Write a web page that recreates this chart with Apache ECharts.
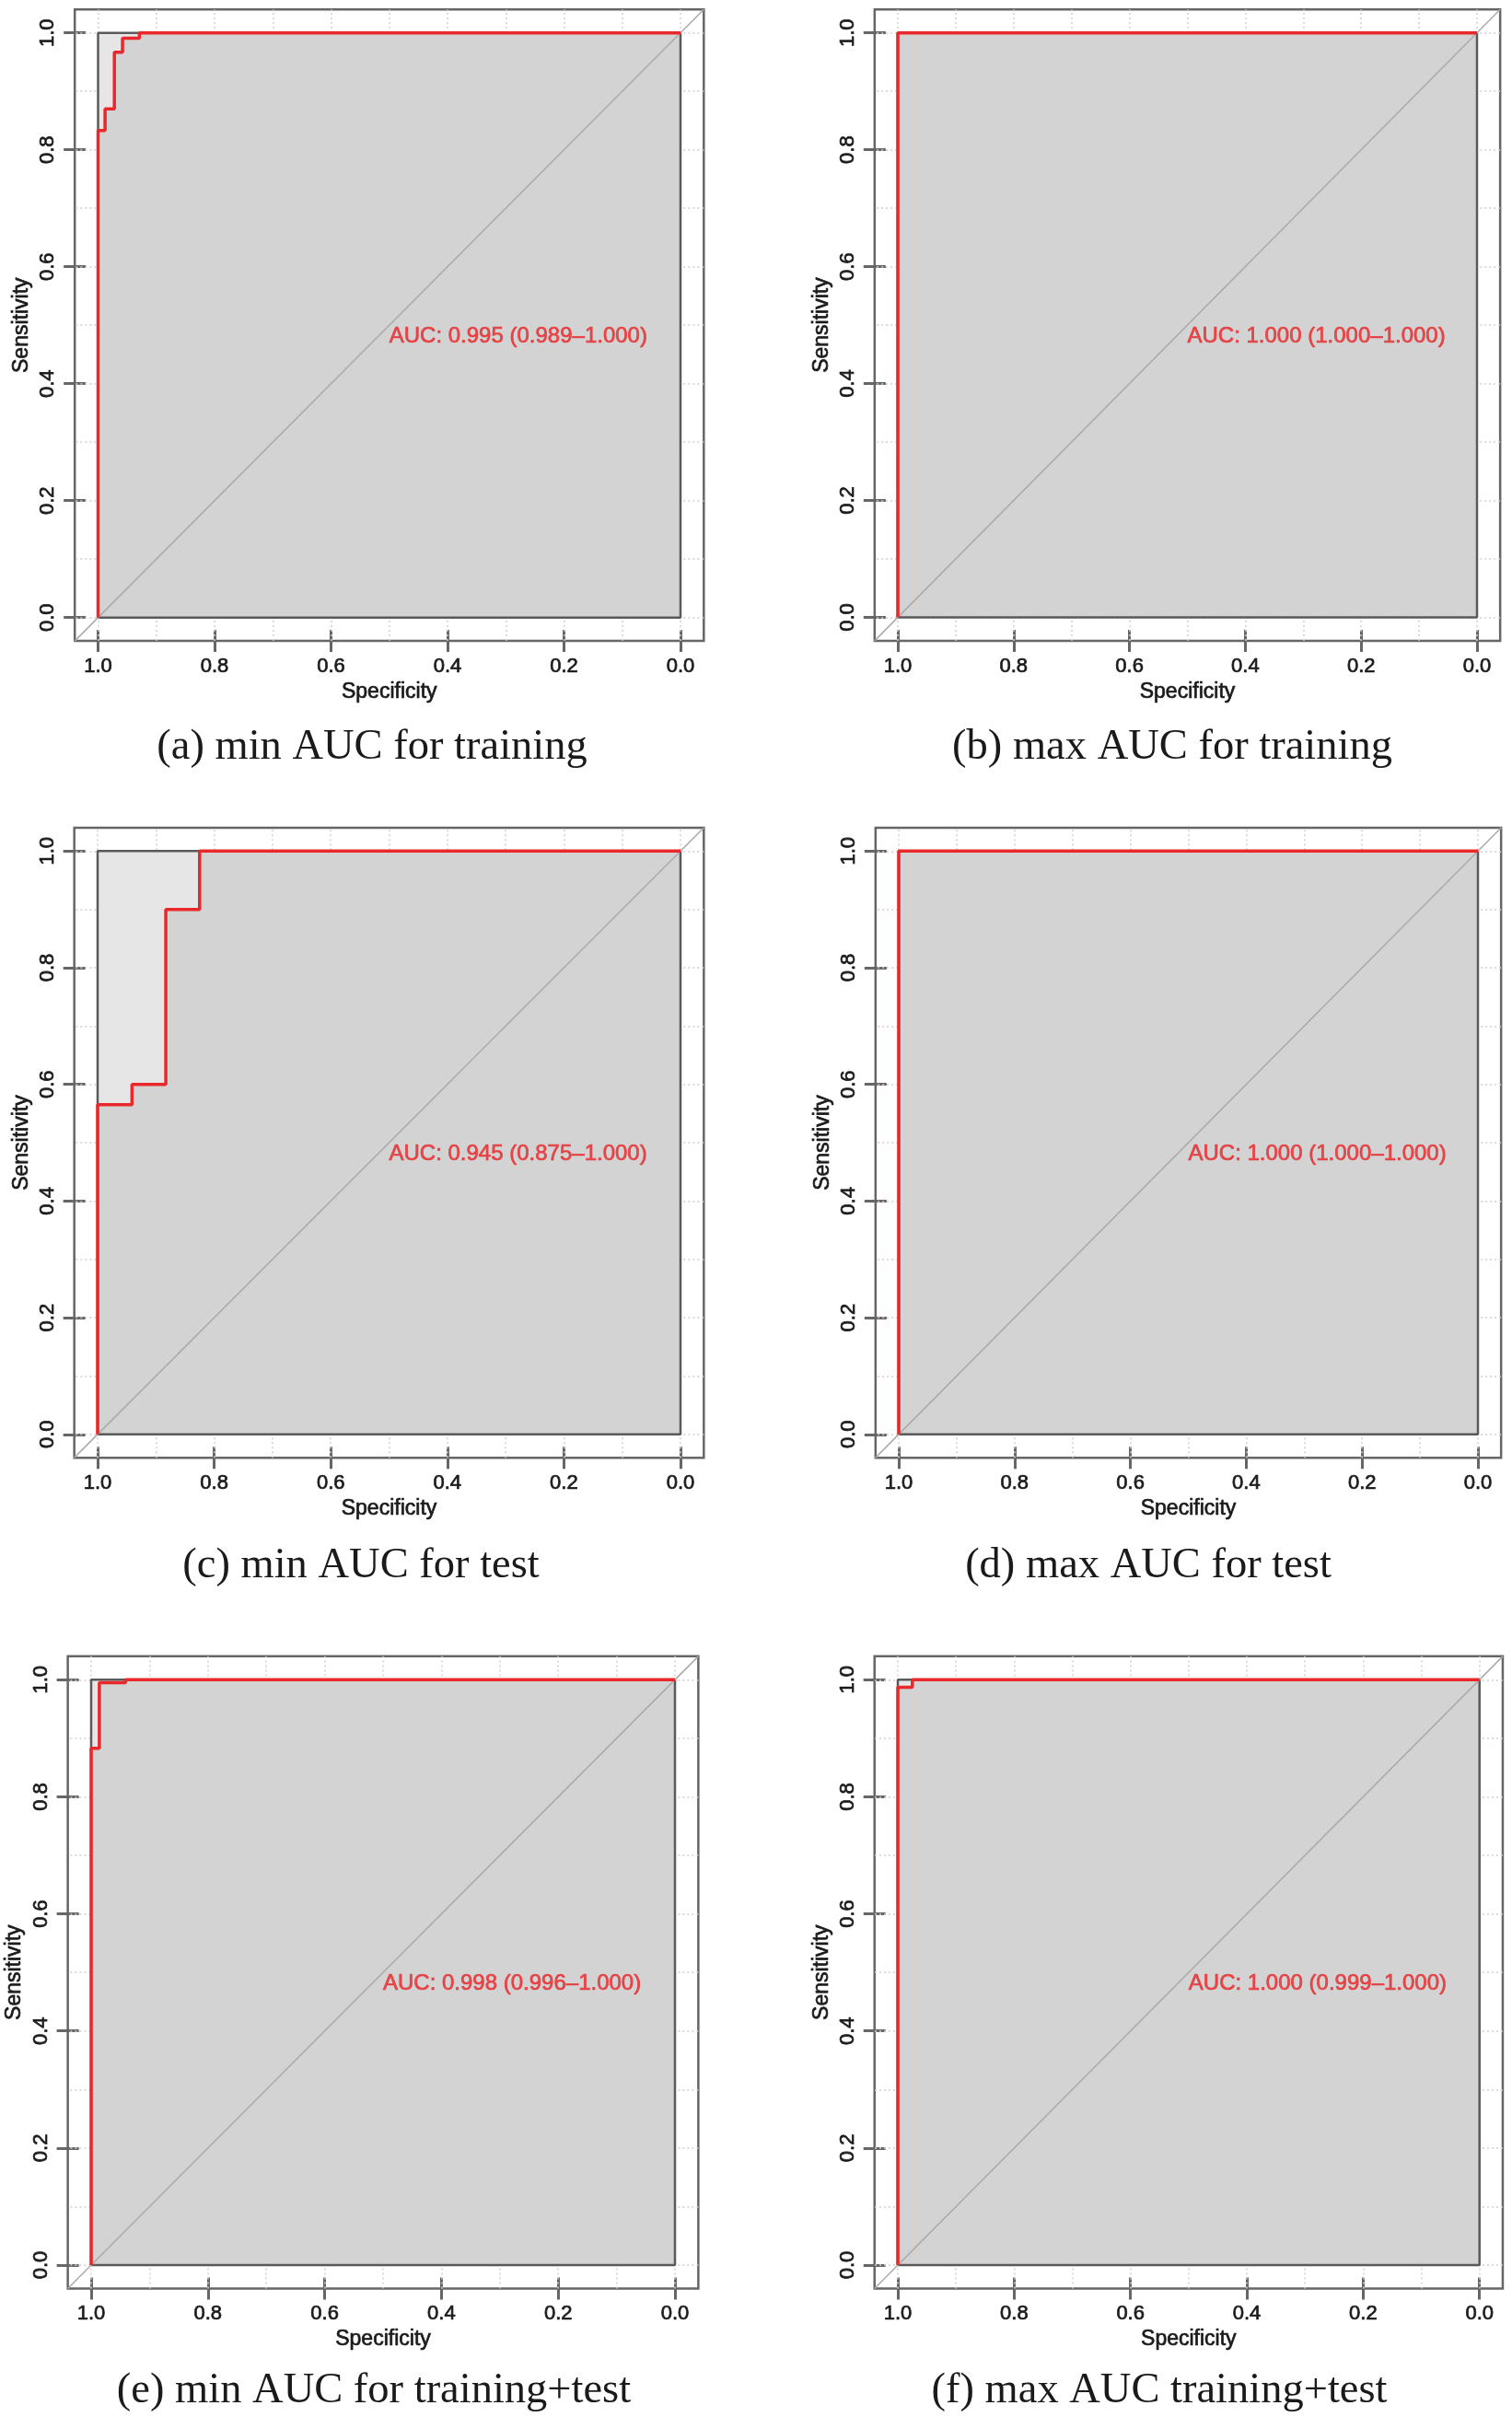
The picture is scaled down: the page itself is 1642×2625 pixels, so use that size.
<!DOCTYPE html>
<html>
<head>
<meta charset="utf-8">
<title>ROC curves</title>
<script src="https://cdn.jsdelivr.net/npm/echarts@6/dist/echarts.min.js"></script>
<style>
  html, body { margin: 0; padding: 0; background: #fff; }
  #chart { width: 1642px; height: 2625px; }
</style>
</head>
<body>
<div id="chart"></div>
<script>
// dotted grid positions shared by every panel
const gridValues = [0, 0.1, 0.2, 0.3, 0.4, 0.5, 0.6, 0.7, 0.8, 0.9, 1.0];

// ROC steps (specificity, sensitivity)
const specA = [1, 1, 0.988, 0.988, 0.972, 0.972, 0.958, 0.958, 0.929, 0.929, 0];
const sensA = [0, 0.833, 0.833, 0.870, 0.870, 0.967, 0.967, 0.991, 0.991, 1, 1];
const specB = [1, 1, 0];
const sensB = [0, 1, 1];
const specC = [1, 1, 0.941, 0.941, 0.883, 0.883, 0.825, 0.825, 0];
const sensC = [0, 0.565, 0.565, 0.600, 0.600, 0.900, 0.900, 1, 1];
const specD = [1, 1, 0];
const sensD = [0, 1, 1];
const specE = [1, 1, 0.986, 0.986, 0.941, 0.941, 0];
const sensE = [0, 0.883, 0.883, 0.995, 0.995, 1, 1];
const specF = [1, 1, 0.975, 0.975, 0];
const sensF = [0, 0.987, 0.987, 1, 1];

const aucTexts = [
  'AUC: 0.995 (0.989–1.000)',
  'AUC: 1.000 (1.000–1.000)',
  'AUC: 0.945 (0.875–1.000)',
  'AUC: 1.000 (1.000–1.000)',
  'AUC: 0.998 (0.996–1.000)',
  'AUC: 1.000 (0.999–1.000)'
];
const captions = [
  '(a) min AUC for training',
  '(b) max AUC for training',
  '(c) min AUC for test',
  '(d) max AUC for test',
  '(e) min AUC for training+test',
  '(f) max AUC training+test'
];

const curves = [
  [specA, sensA], [specB, sensB], [specC, sensC],
  [specD, sensD], [specE, sensE], [specF, sensF]
];

// inner unit square of each panel in page pixels: left, right, top, bottom
const boxes = [
  [106.5, 739, 35.7, 670.7],
  [975, 1604, 35.7, 670.5],
  [106, 739, 924.3, 1557.8],
  [976, 1605, 924.3, 1557.8],
  [99, 733, 1824.3, 2460],
  [975, 1606.7, 1824.3, 2460]
];
const captionPos = [
  [404, 812], [1273, 812],
  [392, 1701], [1247, 1701],
  [406, 2597], [1259, 2597]
];

const axisColor = '#666';
const textColor = '#1a1a1a';
const red = '#e8282b';
const sansFont = '"Liberation Sans", Arial, sans-serif';

const chart = echarts.init(document.getElementById('chart'));

const grid = [];
const xAxis = [];
const yAxis = [];
const series = [];
const graphic = [];

function toPairs(xs, ys) {
  return xs.map((x, i) => [x, ys[i]]);
}

function tickStyle(inside) {
  return {
    show: true,
    inside: inside,
    length: 12,
    lineStyle: { color: axisColor, width: 3 }
  };
}

// a thin outline of the same colour makes the glyphs a little heavier
function sansText(size, color) {
  return {
    color: color,
    fontSize: size,
    fontFamily: sansFont,
    textBorderColor: color,
    textBorderWidth: 0.7
  };
}

const noLine = { show: false, onZero: false };

boxes.forEach((b, i) => {
  const [L, R, T, B] = b;
  const w = R - L;
  const h = B - T;
  const mx = 0.04 * w;
  const my = 0.04 * h;

  // outer plot region (R's 4% extension) with the frame
  grid.push({
    left: L - mx,
    top: T - my,
    width: w + 2 * mx,
    height: h + 2 * my,
    show: true,
    borderColor: axisColor,
    borderWidth: 2.5,
    backgroundColor: 'transparent'
  });
  // inner unit square, carries the ticks and labels
  grid.push({
    left: L,
    top: T,
    width: w,
    height: h,
    show: false
  });

  const og = i * 2;
  const ig = i * 2 + 1;

  xAxis.push({
    type: 'value', gridIndex: og, min: -0.04, max: 1.04, inverse: true,
    show: false, axisLine: noLine
  });
  xAxis.push({
    type: 'value', gridIndex: ig, min: 0, max: 1, interval: 0.2, inverse: true,
    position: 'bottom', offset: my,
    axisLine: noLine,
    splitLine: { show: false },
    name: 'Specificity',
    nameLocation: 'middle',
    nameGap: 44,
    nameTextStyle: sansText(23, textColor),
    axisTick: tickStyle(false),
    axisLabel: Object.assign({ show: true, margin: 17, formatter: (v) => v.toFixed(1) },
      sansText(22, textColor))
  });
  xAxis.push({
    type: 'value', gridIndex: ig, min: 0, max: 1, interval: 0.2, inverse: true,
    position: 'bottom', offset: my,
    axisLine: noLine,
    splitLine: { show: false },
    axisTick: tickStyle(true),
    axisLabel: { show: false }
  });

  yAxis.push({
    type: 'value', gridIndex: og, min: -0.04, max: 1.04,
    show: false, axisLine: noLine
  });
  yAxis.push({
    type: 'value', gridIndex: ig, min: 0, max: 1, interval: 0.2,
    position: 'left', offset: mx,
    axisLine: noLine,
    splitLine: { show: false },
    name: 'Sensitivity',
    nameLocation: 'middle',
    nameGap: 46,
    nameRotate: 90,
    nameTextStyle: sansText(23, textColor),
    axisTick: tickStyle(false),
    axisLabel: Object.assign({ show: true, margin: 18, rotate: 90, formatter: (v) => v.toFixed(1) },
      sansText(22, textColor))
  });
  yAxis.push({
    type: 'value', gridIndex: ig, min: 0, max: 1, interval: 0.2,
    position: 'left', offset: mx,
    axisLine: noLine,
    splitLine: { show: false },
    axisTick: tickStyle(true),
    axisLabel: { show: false }
  });

  const xi = i * 3;
  const yi = i * 3;

  // dotted grid lines
  series.push({
    type: 'line',
    xAxisIndex: xi,
    yAxisIndex: yi,
    data: [],
    z: 1,
    markLine: {
      silent: true,
      z: 1,
      symbol: ['none', 'none'],
      label: { show: false },
      animation: false,
      lineStyle: { color: '#cfcfcf', type: [2, 3], width: 1.5 },
      data: gridValues.map((v) => ({ xAxis: v })).concat(gridValues.map((v) => ({ yAxis: v })))
    }
  });

  // unit square, light fill
  series.push({
    type: 'line',
    xAxisIndex: xi,
    yAxisIndex: yi,
    data: [[1, 1], [0, 1]],
    showSymbol: false,
    lineStyle: { width: 0 },
    areaStyle: { color: '#e6e6e6', opacity: 1, origin: 0 },
    z: 2
  });

  // area under curve, darker fill
  const pairs = toPairs(curves[i][0], curves[i][1]);
  series.push({
    type: 'line',
    xAxisIndex: xi,
    yAxisIndex: yi,
    data: pairs,
    showSymbol: false,
    lineStyle: { width: 0 },
    areaStyle: { color: '#d3d3d3', opacity: 1, origin: 0 },
    z: 3
  });

  // dark border of unit square
  series.push({
    type: 'line',
    xAxisIndex: xi,
    yAxisIndex: yi,
    data: [[1, 0], [1, 1], [0, 1], [0, 0], [1, 0]],
    showSymbol: false,
    lineStyle: { color: '#5a5a5a', width: 2.5 },
    z: 4
  });

  // diagonal reference line
  series.push({
    type: 'line',
    xAxisIndex: xi,
    yAxisIndex: yi,
    data: [[1.04, -0.04], [-0.04, 1.04]],
    showSymbol: false,
    lineStyle: { color: '#aaaaaa', width: 1.5 },
    z: 5
  });

  // ROC curve
  series.push({
    type: 'line',
    xAxisIndex: xi,
    yAxisIndex: yi,
    data: pairs,
    showSymbol: false,
    lineStyle: { color: red, width: 3.5 },
    z: 6
  });

  // AUC text, left/top anchored at (0.5, 0.5)
  series.push({
    type: 'scatter',
    xAxisIndex: xi,
    yAxisIndex: yi,
    data: [[0.5, 0.5]],
    symbolSize: 0,
    z: 7,
    label: Object.assign({
      show: true,
      position: [0, 0],
      align: 'left',
      verticalAlign: 'top',
      formatter: () => aucTexts[i]
    }, sansText(24, red))
  });

  graphic.push({
    type: 'text',
    x: captionPos[i][0],
    y: captionPos[i][1],
    style: {
      text: captions[i],
      align: 'center',
      verticalAlign: 'middle',
      fill: textColor,
      fontSize: 46.5,
      fontFamily: '"Liberation Serif", "Times New Roman", serif'
    }
  });
});

chart.setOption({
  animation: false,
  backgroundColor: '#fff',
  grid,
  xAxis,
  yAxis,
  series,
  graphic
});

window.addEventListener('resize', () => {
  chart.resize();
});
</script>
</body>
</html>
